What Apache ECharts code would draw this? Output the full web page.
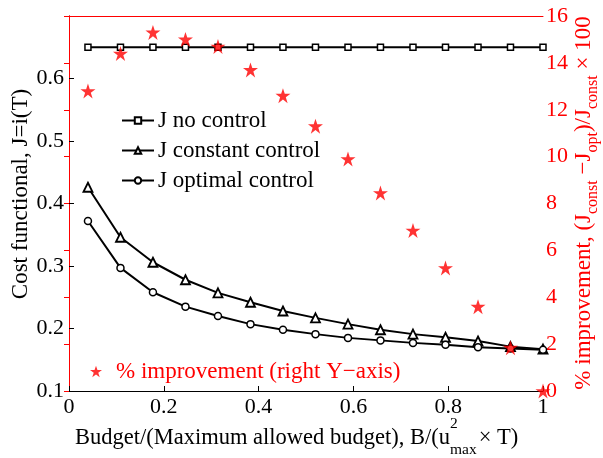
<!DOCTYPE html>
<html><head><meta charset="utf-8">
<script src="https://cdn.jsdelivr.net/npm/echarts@6/dist/echarts.min.js"></script>
<style>html,body{margin:0;padding:0;background:#fff}#c{width:603px;height:458px}</style>
</head><body><div id="c"></div>
<script>
var budget = [0.04, 0.1086, 0.1771, 0.2457, 0.3143, 0.3829, 0.4514, 0.52, 0.5886, 0.6571, 0.7257, 0.7943, 0.8629, 0.9314, 1.0];
var jNoControl = [0.65, 0.65, 0.65, 0.65, 0.65, 0.65, 0.65, 0.65, 0.65, 0.65, 0.65, 0.65, 0.65, 0.65, 0.65];
var jConstant = [0.426, 0.346, 0.306, 0.278, 0.257, 0.242, 0.228, 0.217, 0.207, 0.198, 0.191, 0.186, 0.180, 0.171, 0.167];
var jOptimal = [0.372, 0.297, 0.258, 0.235, 0.220, 0.207, 0.198, 0.191, 0.185, 0.181, 0.177, 0.174, 0.170, 0.168, 0.166];
var improvement = [12.8, 14.4, 15.3, 15.0, 14.7, 13.7, 12.6, 11.3, 9.9, 8.45, 6.85, 5.25, 3.6, 1.85, 0];
var seriesNames = ['J no control', 'J constant control', 'J optimal control', '% improvement (right Y\u2212axis)'];

var FONT = '"Liberation Serif", "Times New Roman", serif';
var RED = '#ff0000';
var STAR = 'path://M50,0 L62,36 L100,36 L69,58 L81,95 L50,72 L19,95 L31,58 L0,36 L38,36 Z';

var cv = document.createElement('canvas').getContext('2d');
function tw(s, size) { cv.font = size + 'px ' + FONT; return cv.measureText(s).width; }
function pairs(xs, ys) { return xs.map(function (x, i) { return [x, ys[i]]; }); }

// x-axis title pieces
var F = 22.5, S = 15.5;
var xs1 = 'Budget/(Maximum allowed budget), B/(u', xs3 = '\u00d7 T)';
var w1 = tw(xs1, F), wSup = tw('2', S), wSub = tw('max', S), w3 = tw(xs3, F);
var xStart = 75;
var xTitle = [
  {type: 'text', x: xStart, y: 438, style: {text: xs1, font: F + 'px ' + FONT, fill: '#000', align: 'left', verticalAlign: 'middle'}},
  {type: 'text', x: xStart + w1, y: 424, style: {text: '2', font: S + 'px ' + FONT, fill: '#000', align: 'left', verticalAlign: 'middle'}},
  {type: 'text', x: xStart + w1, y: 450, style: {text: 'max', font: S + 'px ' + FONT, fill: '#000', align: 'left', verticalAlign: 'middle'}},
  {type: 'text', x: xStart + w1 + Math.max(wSup, wSub) + 2, y: 438, style: {text: xs3, font: F + 'px ' + FONT, fill: '#000', align: 'left', verticalAlign: 'middle'}}
];

// right title pieces (rotated)
var RF = 23, RS = 16;
var rParts = [
  ['% improvement, (J', RF], ['const', RS], [' \u2212J', RF], ['opt', RS], [')/J', RF], ['const', RS], [' \u00d7 100', RF]
];
var rTot = 0; rParts.forEach(function (p) { rTot += tw(p[0], p[1]); });
var rx = -rTot / 2, rChildren = [];
rParts.forEach(function (p) {
  rChildren.push({type: 'text', x: rx, y: p[1] === RF ? 0 : 9,
    style: {text: p[0], font: p[1] + 'px ' + FONT, fill: RED, align: 'left', verticalAlign: 'middle'}});
  rx += tw(p[0], p[1]);
});

var chart = echarts.init(document.getElementById('c'), null, {renderer: 'canvas'});
chart.setOption({
  animation: false,
  backgroundColor: '#fff',
  grid: {left: 69, right: 60, top: 16, bottom: 67, containLabel: false},
  xAxis: [{
    type: 'value', min: 0, max: 1, interval: 0.2,
    axisLine: {lineStyle: {color: '#000', width: 1}},
    axisTick: {inside: true, length: 5, lineStyle: {color: '#000'}},
    axisLabel: {color: '#000', fontSize: 22, fontFamily: FONT, margin: 5},
    splitLine: {show: false}
  }, {
    type: 'value', min: 0, max: 1, position: 'top',
    axisLine: {show: true, lineStyle: {color: RED, width: 1}},
    axisTick: {show: false}, axisLabel: {show: false}, splitLine: {show: false}
  }],
  yAxis: [{
    type: 'value', min: 0.1, max: 0.7, interval: 0.1, position: 'left',
    axisLine: {show: true, lineStyle: {color: '#000', width: 1}},
    axisTick: {show: true, inside: true, length: 5, lineStyle: {color: '#000'}},
    axisLabel: {color: '#000', fontSize: 22, fontFamily: FONT, margin: 5, showMaxLabel: false},
    splitLine: {show: false}
  }, {
    type: 'value', min: 0, max: 16, interval: 2, position: 'right',
    axisLine: {show: true, lineStyle: {color: RED, width: 1}},
    axisTick: {show: true, inside: true, length: 5, lineStyle: {color: RED}},
    axisLabel: {color: RED, fontSize: 22, fontFamily: FONT, margin: 3},
    splitLine: {show: false}
  }],
  legend: [{
    data: seriesNames.slice(0, 3), orient: 'vertical', left: 121, top: 109, padding: 0,
    itemWidth: 32, itemHeight: 8, itemGap: 7,
    textStyle: {color: '#000', fontSize: 23, fontFamily: FONT, lineHeight: 23, padding: [0, 0, 0, -1]},
    selectedMode: false
  }, {
    data: [{name: seriesNames[3], icon: STAR}], left: 90, top: 360, padding: 0,
    itemWidth: 12, itemHeight: 12,
    textStyle: {color: RED, fontSize: 23, fontFamily: FONT, lineHeight: 23, padding: [0, 0, 0, 9]},
    selectedMode: false
  }],
  series: [{
    name: seriesNames[0], type: 'line', data: pairs(budget, jNoControl),
    symbol: 'rect', symbolSize: 6, showAllSymbol: true, z: 3,
    lineStyle: {color: '#000', width: 2},
    itemStyle: {color: '#fff', borderColor: '#000', borderWidth: 1.5}
  }, {
    name: seriesNames[1], type: 'line', data: pairs(budget, jConstant),
    symbol: 'triangle', symbolSize: 9, showAllSymbol: true, z: 3,
    lineStyle: {color: '#000', width: 2},
    itemStyle: {color: '#fff', borderColor: '#000', borderWidth: 1.8}
  }, {
    name: seriesNames[2], type: 'line', data: pairs(budget, jOptimal),
    symbol: 'circle', symbolSize: 7, showAllSymbol: true, z: 3,
    lineStyle: {color: '#000', width: 2},
    itemStyle: {color: '#fff', borderColor: '#000', borderWidth: 1.5}
  }, {
    name: seriesNames[3], type: 'scatter', yAxisIndex: 1, data: pairs(budget, improvement),
    symbol: STAR, symbolSize: 15, clip: false, z: 4,
    itemStyle: {color: RED}
  }],
  graphic: [
    {type: 'text', x: 21, y: 194, rotation: Math.PI / 2,
      style: {text: 'Cost functional, J=i(T)', font: '23px ' + FONT, fill: '#000', align: 'center', verticalAlign: 'middle'}},
    {type: 'group', x: 584, y: 203, rotation: Math.PI / 2, children: rChildren}
  ].concat(xTitle)
});
</script></body></html>
